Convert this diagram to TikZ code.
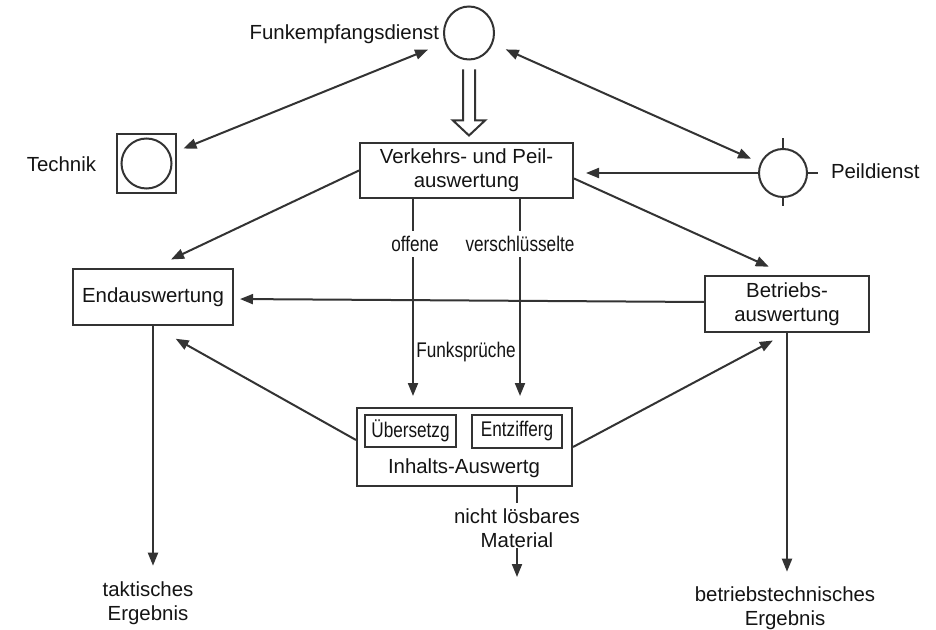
\documentclass[tikz,border=0pt]{standalone}
\usepackage{fontspec}
\setmainfont{Liberation Sans}
\newfontfamily\condfont[FakeStretch=0.81]{Liberation Sans}
\usetikzlibrary{arrows.meta,positioning,calc,shapes.geometric}

\begin{document}
\begin{tikzpicture}[
    x=0.5pt, y=-0.5pt,
    line width=1pt,
    font=\fontsize{10.2}{11.8}\selectfont,
    every node/.style={text=black!92},
    circ/.style={
        draw=black!80,
        circle,
        minimum size=25pt,
        inner sep=0pt
    },
    box/.style={
        draw=black!80,
        rectangle,
        align=center,
        inner sep=0pt
    },
    inbox/.style={
        draw=black!80,
        rectangle,
        inner sep=0pt,
        font=\fontsize{10.6}{11.8}\condfont
    },
    lbl/.style={
        inner sep=0pt,
        align=center
    },
    cond/.style={
        inner sep=0pt,
        font=\fontsize{10.6}{11.8}\condfont
    },
    online/.style={
        cond,
        fill=white,
        inner sep=2.5pt
    },
    arr/.style={
        draw=black!80,
        -{Triangle[length=6.5pt,width=5pt]}
    },
    dbl/.style={
        draw=black!80,
        {Triangle[length=6.5pt,width=5pt]}-{Triangle[length=6.5pt,width=5pt]}
    }
]

\fill[white] (0,0) rectangle (936,630);
\useasboundingbox (0,0) rectangle (936,630);

%---------------------------------------------------------------------
% Services
%---------------------------------------------------------------------

\node[circ, ellipse, minimum width=25pt, minimum height=26.5pt] (funk) at (469,33) {};
\node[lbl, anchor=east] (funkL) at (440,34) {Funkempfangsdienst};

\node[box, minimum width=29.5pt, minimum height=29.5pt] (tech) at (146.5,163.5) {};
\node[circ] (techC) at (tech.center) {};
\node[lbl, anchor=east] (techL) at (97,164.5) {Technik};

\node[circ, minimum size=24pt] (peil) at (783,173) {};
\draw[black!80] (peil.north) -- ++(0,-10)
                (peil.east) -- ++(10,0)
                (peil.south) -- ++(0,8);
\node[lbl, anchor=west] (peilL) at (830,171.5) {Peildienst};

%---------------------------------------------------------------------
% Evaluation boxes
%---------------------------------------------------------------------

\node[box, minimum width=106.5pt, minimum height=27.5pt] (verk) at (466.5,170.5)
    {Verkehrs- und Peil-\\auswertung};
\node[box, minimum width=80pt, minimum height=28pt] (endaus) at (153,297)
    {Endauswertung};
\node[box, minimum width=82pt, minimum height=28pt] (betr) at (787,304)
    {Betriebs-\\auswertung};

\node[box, minimum width=107.5pt, minimum height=39pt] (inhalt) at (464.5,447) {};
\node[inbox, minimum width=45.5pt, minimum height=16pt] (ueber) at (410.5,431) {Übersetzg};
\node[inbox, minimum width=45pt, minimum height=16.5pt] (entz) at (517,431.5) {Entzifferg};
\node[lbl] (inhaltL) at (464,468) {Inhalts-Auswertg};

%---------------------------------------------------------------------
% Results
%---------------------------------------------------------------------

\node[lbl] (takt) at (148,603) {taktisches\\Ergebnis};
\node[lbl] (btErg) at (785,608) {betriebstechnisches\\Ergebnis};
\node[lbl] (nloes) at (517,528) {nicht lösbares\\Material};
\coordinate (matEnd) at (517,577);

%---------------------------------------------------------------------
% Connections
%---------------------------------------------------------------------

% hollow arrow
\coordinate (hTop) at ($(funk.south)+(0,9)$);
\draw[black!80] ($(hTop)+(-6,0)$) -- ++(0,51) -- ++(-10,0)
    -- ($(hTop)+(0,66)$) -- ($(hTop)+(16,51)$) -- ++(-10,0) -- ++(0,-51);

\draw[dbl, shorten <=3.5pt, shorten >=9pt] (tech) -- (funk);
\draw[dbl, shorten <=7pt, shorten >=5pt] (funk) -- (peil);
\draw[arr, shorten >=6pt] (peil.west) -- (peil.west -| verk.east);

\draw[arr, shorten >=10pt] (verk.west) -- (endaus.north);
\draw[arr, shorten >=10pt] ([yshift=-4pt]verk.east) -- (betr.north);
\draw[arr, shorten >=3pt] ([yshift=1pt]betr.west) -- ([yshift=-1pt]endaus.east);

\coordinate (offA) at ([xshift=-26.75pt]verk.south);
\coordinate (verA) at ([xshift=26.75pt]verk.south);
\draw[arr, shorten >=5.5pt] (offA) -- (offA |- inhalt.north);
\draw[arr, shorten >=5.5pt] (verA) -- (verA |- inhalt.north);
\path (offA) ++(2,45) node[online] (offL) {offene};
\path (verA) ++(0,45) node[online] (verL) {verschlüsselte};
\node[cond] (funkspr) at (466,352) {Funksprüche};

\draw[arr, shorten >=13pt] ([yshift=3.5pt]inhalt.west) -- (endaus.south);
\draw[arr, shorten >=8pt] (inhalt.east) -- (betr.south);

\draw[arr, shorten >=7.5pt] (endaus.south) -- (endaus.south |- takt.north);
\draw[arr, shorten >=7pt] (betr.south) -- (betr.south |- btErg.north);
\draw[black!80] (inhalt.south -| nloes.north) -- ([yshift=2.5pt]nloes.north);
\draw[arr] (nloes.south) -- (matEnd);

\end{tikzpicture}
\end{document}
